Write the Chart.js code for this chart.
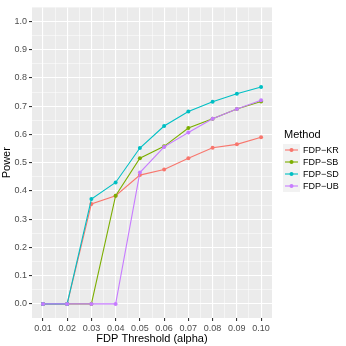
<!DOCTYPE html>
<html>
<head>
<meta charset="utf-8">
<script src="https://cdn.jsdelivr.net/npm/chart.js@4.4.1/dist/chart.umd.min.js"></script>
<style>
  html, body { margin: 0; padding: 0; background: #fff; }
  #wrap { width: 346px; height: 346px; }
</style>
</head>
<body>
<div id="wrap"><canvas id="myChart" width="346" height="346"></canvas></div>
<script>
// данные
const thresholds = [0.01, 0.02, 0.03, 0.04, 0.05, 0.06, 0.07, 0.08, 0.09, 0.10];
const methods = ['FDP\u2212KR', 'FDP\u2212SB', 'FDP\u2212SD', 'FDP\u2212UB'];
const powerKR = [0, 0, 0.354, 0.383, 0.456, 0.476, 0.516, 0.553, 0.565, 0.590];
const powerSB = [0, 0, 0, 0.383, 0.516, 0.558, 0.623, 0.656, 0.690, 0.717];
const powerSD = [0, 0, 0.371, 0.430, 0.552, 0.630, 0.681, 0.716, 0.744, 0.768];
const powerUB = [0, 0, 0, 0, 0.465, 0.556, 0.607, 0.656, 0.690, 0.721];
const xTicks = [0.01, 0.02, 0.03, 0.04, 0.05, 0.06, 0.07, 0.08, 0.09, 0.10];
const yTicks = [0, 0.1, 0.2, 0.3, 0.4, 0.5, 0.6, 0.7, 0.8, 0.9, 1.0];

const colors = ['#F8766D', '#7CAE00', '#00BFC4', '#C77CFF'];
const series = [powerKR, powerSB, powerSD, powerUB];
const FONT = '"Liberation Sans", Arial, sans-serif';

// точки для графика
function toPoints(arr) {
  return thresholds.map((t, i) => ({ x: t, y: arr[i] }));
}

// добавляем минорные деления посередине
function withMinor(major) {
  const out = [];
  for (let i = 0; i < major.length; i++) {
    out.push({ value: major[i], major: true });
    if (i < major.length - 1) {
      out.push({ value: (major[i] + major[i + 1]) / 2, major: false });
    }
  }
  return out;
}

const datasets = series.map((arr, i) => ({
  label: methods[i],
  data: toPoints(arr),
  borderColor: colors[i],
  backgroundColor: colors[i],
  borderWidth: 1.1,
  pointRadius: 2,
  pointBorderWidth: 0,
  pointHoverRadius: 2,
  order: 4 - i
}));

// фон панели как в ggplot
const panelBg = {
  id: 'panelBg',
  beforeDraw(chart) {
    const { ctx, chartArea: a } = chart;
    ctx.save();
    ctx.fillStyle = '#EBEBEB';
    ctx.fillRect(a.left, a.top, a.right - a.left, a.bottom - a.top);
    ctx.restore();
  }
};

// своя легенда справа
const sideLegend = {
  id: 'sideLegend',
  afterDraw(chart) {
    const ctx = chart.ctx;
    ctx.save();
    ctx.fillStyle = '#000';
    ctx.font = '11px ' + FONT;
    ctx.textBaseline = 'middle';
    ctx.textAlign = 'left';
    ctx.fillText('Method', 284, 135);
    const y0 = 150, step = 12;
    methods.forEach((m, i) => {
      const y = y0 + i * step;
      ctx.fillStyle = '#F2F2F2';
      ctx.fillRect(283, y - 6, 17, 12);
      ctx.strokeStyle = colors[i];
      ctx.lineWidth = 1.1;
      ctx.beginPath();
      ctx.moveTo(285, y);
      ctx.lineTo(298, y);
      ctx.stroke();
      ctx.fillStyle = colors[i];
      ctx.beginPath();
      ctx.arc(291.5, y, 2, 0, Math.PI * 2);
      ctx.fill();
      ctx.fillStyle = '#000';
      ctx.font = '9px ' + FONT;
      ctx.fillText(m, 303, y + 0.5);
    });
    ctx.restore();
  }
};

const config = {
  type: 'line',
  data: { datasets: datasets },
  options: {
    responsive: false,
    animation: false,
    layout: { padding: { top: 4, right: 74, left: 0, bottom: 0 } },
    plugins: {
      legend: { display: false },
      tooltip: { enabled: false }
    },
    scales: {
      x: {
        type: 'linear',
        min: 0.0055,
        max: 0.1045,
        afterBuildTicks: (scale) => { scale.ticks = withMinor(xTicks); },
        afterFit: (scale) => { scale.height = 28; },
        border: { display: false },
        grid: {
          color: '#FFFFFF',
          lineWidth: (c) => (c.tick && c.tick.major ? 1.1 : 0.5),
          tickColor: (c) => (c.tick && c.tick.major ? '#333333' : 'rgba(0,0,0,0)'),
          tickLength: 3
        },
        ticks: {
          autoSkip: false,
          maxRotation: 0,
          padding: 2,
          color: '#4D4D4D',
          font: { family: FONT, size: 9 },
          callback: (v, i, ticks) => (ticks[i].major ? Number(v).toFixed(2) : '')
        },
        title: {
          display: true,
          text: 'FDP Threshold (alpha)',
          color: '#000',
          font: { family: FONT, size: 11 },
          padding: { top: 0, bottom: 0 }
        }
      },
      y: {
        type: 'linear',
        min: -0.05,
        max: 1.05,
        afterBuildTicks: (scale) => { scale.ticks = withMinor(yTicks); },
        afterFit: (scale) => { scale.width = 32; },
        border: { display: false },
        grid: {
          color: '#FFFFFF',
          lineWidth: (c) => (c.tick && c.tick.major ? 1.1 : 0.5),
          tickColor: (c) => (c.tick && c.tick.major ? '#333333' : 'rgba(0,0,0,0)'),
          tickLength: 3
        },
        ticks: {
          autoSkip: false,
          padding: 2,
          color: '#4D4D4D',
          font: { family: FONT, size: 9 },
          callback: (v, i, ticks) => (ticks[i].major ? Number(v).toFixed(1) : '')
        },
        title: {
          display: true,
          text: 'Power',
          color: '#000',
          font: { family: FONT, size: 11 },
          padding: { top: 0, bottom: 2 }
        }
      }
    }
  },
  plugins: [panelBg, sideLegend]
};

const myChart = new Chart(document.getElementById('myChart'), config);
</script>
</body>
</html>
